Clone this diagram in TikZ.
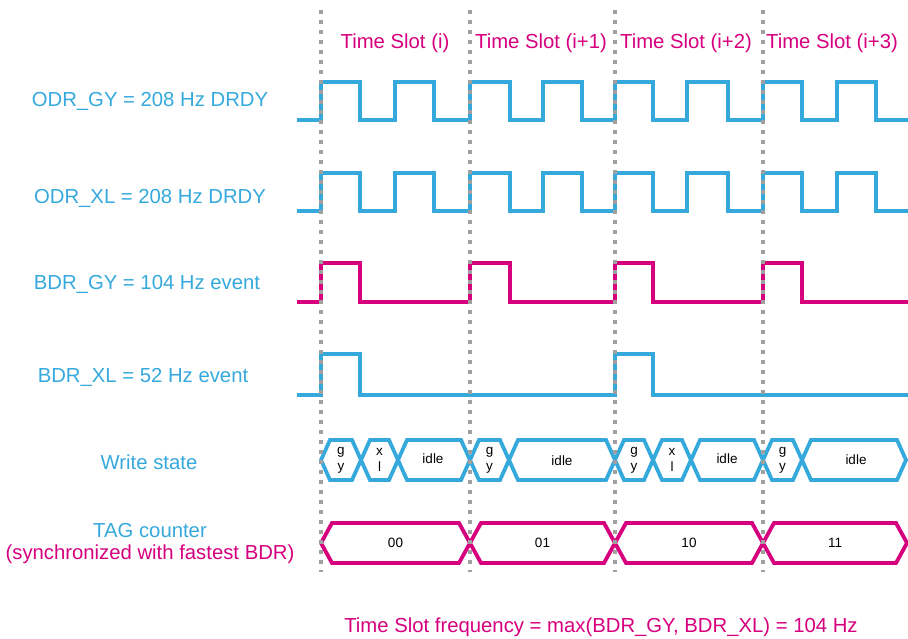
\documentclass[tikz,border=0pt]{standalone}
\usepackage{fontspec}
\setmainfont{Liberation Sans}
\definecolor{stblue}{RGB}{53,169,220}
\definecolor{stmag}{RGB}{214,0,127}
\definecolor{dotgray}{RGB}{160,160,160}
\begin{document}
\begin{tikzpicture}[x=1pt,y=-1pt,
  sigb/.style={draw=stblue,line width=4.5pt},
  sigm/.style={draw=stmag,line width=4.5pt},
  hexb/.style={draw=stblue,line width=3.8pt,line join=miter},
  hexm/.style={draw=stmag,line width=3.8pt,line join=miter},
  lab/.style={font=\fontsize{20.3}{24}\selectfont,text=stblue,inner sep=0pt},
  labm/.style={font=\fontsize{20.3}{24}\selectfont,text=stmag,inner sep=0pt},
  small/.style={font=\fontsize{13.5}{16}\selectfont,text=black,align=center,inner sep=0pt},
  slotline/.style={draw=dotgray,line width=4pt,dash pattern=on 4pt off 6pt}]
\useasboundingbox (0,0) rectangle (908,639);
% ODR_GY
\draw[sigb] (297,120) foreach \r/\f in {321/360,395/434,470/510,543/582,615/653,687/728,763/802,837/876}
  { -- (\r,120) -- (\r,82) -- (\f,82) -- (\f,120) } -- (908,120);
% ODR_XL
\draw[sigb] (297,211) foreach \r/\f in {321/360,395/434,470/510,543/582,615/653,687/728,763/802,837/876}
  { -- (\r,211) -- (\r,173) -- (\f,173) -- (\f,211) } -- (908,211);
% BDR_GY
\draw[sigm] (297,302) foreach \r/\f in {321/360,470/510,615/653,763/802}
  { -- (\r,302) -- (\r,263) -- (\f,263) -- (\f,302) } -- (908,302);
% BDR_XL
\draw[sigb] (297,395) foreach \r/\f in {321/360,615/653}
  { -- (\r,395) -- (\r,354) -- (\f,354) -- (\f,395) } -- (908,395);
% Write state
\foreach \a/\b in {321/361,361/398,398/470,470/509,509/615,615/653,653/691,691/763,763/802,802/906}
  \draw[hexb] (\a,460) -- (\a+9,440) -- (\b-9,440) -- (\b,460) -- (\b-9,480) -- (\a+9,480) -- cycle;
\node[small] (w1) at (341,460) {g\\y};
\node[small] (w2) at (379.5,460) {x\\l};
\node[small] (w3) at (433,459) {idle};
\node[small] (w4) at (489.5,460) {g\\y};
\node[small] (w5) at (562,461) {idle};
\node[small] (w6) at (634,460) {g\\y};
\node[small] (w7) at (672,460) {x\\l};
\node[small] (w8) at (727,459) {idle};
\node[small] (w9) at (782.5,460) {g\\y};
\node[small] (w10) at (856,460) {idle};
% TAG counter
\foreach \a/\b in {321/470,470/615,615/763,763/907}
  \draw[hexm] (\a,543) -- (\a+11,523) -- (\b-11,523) -- (\b,543) -- (\b-11,563) -- (\a+11,563) -- cycle;
\node[small] (t1) at (395.5,543) {00};
\node[small] (t2) at (542.5,543) {01};
\node[small] (t3) at (689,543) {10};
\node[small] (t4) at (835,543) {11};
% slot lines
\foreach \x in {321,470,615,763}
  \draw[slotline] (\x,10) -- (\x,572);
% labels
\node[labm] (s1) at (395,43) {Time Slot (i)};
\node[labm] (s2) at (541,43) {Time Slot (i+1)};
\node[labm] (s3) at (686,43) {Time Slot (i+2)};
\node[labm] (s4) at (832,43) {Time Slot (i+3)};
\node[lab] (l1) at (150,101) {ODR\_GY = 208 Hz DRDY};
\node[lab] (l2) at (150,198) {ODR\_XL = 208 Hz DRDY};
\node[lab] (l3) at (147,284) {BDR\_GY = 104 Hz event};
\node[lab] (l4) at (143,377) {BDR\_XL = 52 Hz event};
\node[lab] (l5) at (149,462) {Write state};
\node[lab] (l6) at (150,531) {TAG counter};
\node[labm] (l7) at (150,554) {(synchronized with fastest BDR)};
\node[labm] (f) at (601,627) {Time Slot frequency = max(BDR\_GY, BDR\_XL) = 104 Hz};
\end{tikzpicture}
\end{document}
